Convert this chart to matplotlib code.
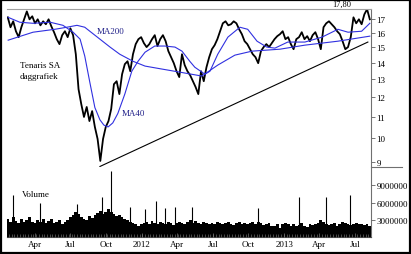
import datetime as dt
import matplotlib
matplotlib.use("Agg")
import matplotlib.pyplot as plt
import matplotlib.dates as mdates
from matplotlib.lines import Line2D
from matplotlib.patches import Rectangle
import pandas as pd

plt.rcParams['font.family'] = ['Liberation Serif', 'DejaVu Serif']

# weekly closes (Tenaris SA, Jan 2011 - Aug 2013)
week_start = '2011-01-21'
closes = [17.15, 16.41, 16.85, 16.12, 15.70, 16.41, 17.00, 17.61, 17.00, 17.23,
          16.70, 17.00, 16.55, 16.85, 16.63, 17.00, 16.48, 16.05, 15.56, 15.22,
          15.84, 16.12, 15.70, 16.33, 15.84, 14.55, 12.45, 11.65, 11.00, 11.50,
          10.80, 11.29, 10.52, 9.97, 9.04, 9.97, 10.52, 10.80, 11.40, 12.73,
          12.90, 12.18, 13.31, 13.92, 14.10, 13.49, 14.55, 15.22, 15.56, 15.70,
          15.29, 15.02, 15.22, 15.56, 15.84, 15.09, 15.56, 15.84, 15.42, 14.75,
          14.36, 13.98, 13.49, 13.14, 14.55, 13.86, 13.49, 13.25, 12.90, 12.57,
          12.18, 13.49, 12.90, 13.73, 14.36, 14.88, 15.15, 15.56, 16.12, 16.70,
          16.85, 16.55, 16.63, 16.85, 16.70, 16.26, 15.91, 15.42, 15.22, 14.88,
          14.55, 14.36, 13.98, 14.75, 15.02, 15.22, 15.02, 15.29, 15.56, 15.77,
          15.91, 16.12, 15.56, 15.70, 15.22, 14.88, 15.56, 15.70, 16.05, 15.56,
          15.77, 15.42, 15.84, 16.05, 15.56, 14.88, 16.41, 16.70, 16.85, 16.63,
          16.41, 16.12, 15.91, 15.42, 14.88, 15.02, 15.70, 17.15, 16.70, 17.00,
          16.63, 17.38, 17.78, 17.00]

# weekly volume (millions)
volume = [3.1, 2.6, 3.4, 2.8, 2.4, 3.2, 2.6, 3.0, 3.5, 2.7, 2.5,
          2.9, 2.6, 3.2, 2.4, 2.8, 3.1, 2.5, 2.7, 3.0, 2.3, 2.6, 2.9, 3.4,
          3.8, 4.3, 4.0, 3.4, 3.2, 3.0, 3.6, 3.3, 3.8, 4.2, 4.6, 4.0, 4.4,
          4.8, 4.3, 4.0, 3.6, 3.8, 3.4, 3.1, 2.9, 2.6, 2.4, 2.2, 2.0, 2.3,
          2.4, 2.6, 2.2, 2.8, 2.4, 2.3, 2.7, 2.5, 2.2, 2.6, 2.4, 2.1, 2.5,
          2.7, 2.4, 2.2, 2.6, 2.9, 2.4, 2.8, 2.5, 2.3, 2.7, 2.4, 2.2, 2.5,
          2.3, 2.6, 2.4, 2.2, 2.5, 2.7, 2.3, 2.1, 2.4, 2.6, 2.2, 2.4, 2.3,
          2.4, 2.6, 2.2, 2.7, 2.4, 2.1, 2.3, 2.5, 2.0, 1.9, 2.2, 1.6, 2.3,
          2.4, 2.2, 2.0, 2.3, 1.9, 2.1, 2.4, 2.0, 1.8, 2.2, 2.1, 2.3, 2.4,
          2.9, 2.6, 2.3, 2.1, 2.2, 2.4, 2.0, 2.3, 2.6, 2.4, 2.2, 2.1, 2.3,
          2.4, 2.2, 2.3, 2.1, 2.2, 2.0]

# single-day volume spikes (millions)
spike_dates = ['2011-02-03', '2011-04-15', '2011-07-18', '2011-09-20', '2011-10-14',
               '2011-12-01', '2012-01-09', '2012-02-06', '2012-02-29', '2012-03-26',
               '2012-05-09', '2012-10-25', '2013-02-08', '2013-04-18', '2013-06-19']
spike_vals = [7.4, 6.0, 5.8, 6.9, 11.5, 5.3, 4.8, 6.2, 5.1, 5.3, 5.3, 5.1, 6.9, 6.9, 7.4]

# moving averages
ma40_dates = ['2011-01-22', '2011-02-21', '2011-03-27', '2011-05-10', '2011-06-12',
              '2011-07-08', '2011-07-26', '2011-08-07', '2011-08-20', '2011-09-02',
              '2011-09-15', '2011-09-25', '2011-10-06', '2011-10-18', '2011-10-31',
              '2011-11-18', '2011-12-06', '2011-12-22', '2012-01-09', '2012-02-03',
              '2012-02-29', '2012-03-26', '2012-04-13', '2012-05-03', '2012-05-16',
              '2012-06-11', '2012-06-24', '2012-07-14', '2012-08-09', '2012-09-09',
              '2012-09-29', '2012-10-23', '2012-11-17', '2012-12-08', '2013-01-10',
              '2013-02-23', '2013-04-08', '2013-05-19', '2013-06-14', '2013-07-19',
              '2013-08-09']
ma40_vals = [17.15, 16.78, 16.70, 16.78, 16.55, 16.05, 15.56, 14.43, 12.84, 11.47,
             10.86, 10.61, 10.52, 10.71, 11.17, 12.18, 13.49, 14.10, 14.68, 15.09,
             15.09, 15.02, 14.75, 14.10, 13.73, 13.31, 13.49, 14.55, 15.70, 16.41,
             16.26, 15.42, 15.02, 14.95, 15.36, 15.36, 15.70, 16.26, 16.05, 16.12,
             16.70]

ma200_dates = ['2011-01-22', '2011-03-27', '2011-05-22', '2011-06-22', '2011-07-18',
               '2011-08-07', '2011-08-20', '2011-09-15', '2011-10-11', '2011-11-05',
               '2011-12-09', '2012-01-09', '2012-02-21', '2012-04-08', '2012-06-03',
               '2012-07-14', '2012-08-27', '2012-10-10', '2012-12-21', '2013-02-23',
               '2013-05-19', '2013-08-09']
ma200_vals = [15.49, 16.05, 16.26, 16.41, 16.55, 16.41, 16.12, 15.56, 15.02, 14.55,
              14.10, 13.80, 13.62, 13.43, 13.20, 13.86, 14.49, 14.75, 14.88, 15.15,
              15.42, 15.77]

trend_dates = ['2011-09-15', '2013-08-04']
trend_vals = [8.82, 15.36]

price_ticks = [9, 10, 11, 12, 13, 14, 15, 16, 17]
vol_ticks = [3000000, 6000000, 9000000]
x_tick_dates = ['2011-04-01', '2011-07-01', '2011-10-01', '2012-01-01', '2012-04-01',
                '2012-07-01', '2012-10-01', '2013-01-01', '2013-04-01', '2013-07-01']
x_tick_labels = ['Apr', 'Jul', 'Oct', '2012', 'Apr', 'Jul', 'Oct', '2013', 'Apr', 'Jul']


def d(s):
    return mdates.date2num(dt.datetime.strptime(s, '%Y-%m-%d'))


weeks = pd.date_range(week_start, periods=len(closes), freq='7D')
fs = 6.5
blue = '#3030e0'
navy = '#23238a'

fig = plt.figure(figsize=(4.11, 2.55), dpi=100)
ax = fig.add_axes([0.017, 0.3412, 0.8856, 0.6196])
axv = fig.add_axes([0.017, 0.0667, 0.8856, 0.2745], sharex=ax)

# price panel
ax.plot(weeks, closes, color='black', lw=1.3)
ax.plot([d(s) for s in ma40_dates], ma40_vals, color=blue, lw=0.8)
ax.plot([d(s) for s in ma200_dates], ma200_vals, color=blue, lw=0.8)
ax.plot([d(s) for s in trend_dates], trend_vals, color='black', lw=0.8)
ax.set_yscale('log')
ax.set_ylim(8.80, 17.8)
ax.set_xlim(d('2011-01-19'), d('2013-08-12'))
ax.yaxis.tick_right()
ax.set_yticks(price_ticks)
ax.set_yticklabels([str(t) for t in price_ticks])
ax.yaxis.set_minor_locator(plt.NullLocator())
ax.tick_params(axis='y', which='major', length=3, width=0.6, color='#606060',
               labelsize=fs, pad=1)
ax.tick_params(axis='x', which='both', bottom=False, labelbottom=False)
for side in ['left', 'bottom']:
    ax.spines[side].set_visible(False)
ax.spines['top'].set_color('#a0a0a0')
ax.spines['right'].set_color('#707070')
ax.spines['top'].set_linewidth(0.8)
ax.spines['right'].set_linewidth(0.8)

# volume panel
axv.bar(weeks, [v * 1e6 for v in volume], width=7, color='black', lw=0)
axv.vlines([d(s) for s in spike_dates], 0, [v * 1e6 for v in spike_vals],
           color='black', lw=0.8)
axv.set_ylim(0, 12.2e6)
axv.yaxis.tick_right()
axv.set_yticks(vol_ticks)
axv.set_yticklabels([str(t) for t in vol_ticks])
axv.tick_params(axis='y', length=3, width=0.6, color='#606060', labelsize=fs, pad=1)
axv.set_xticks([d(s) for s in x_tick_dates])
axv.set_xticklabels(x_tick_labels)
axv.xaxis.set_minor_locator(mdates.WeekdayLocator(byweekday=mdates.MO))
axv.tick_params(axis='x', which='major', direction='in', length=3, width=0.6,
                color='#606060', labelsize=fs, pad=2)
axv.tick_params(axis='x', which='minor', direction='in', length=2, width=0.4,
                color='#808080')
axv.set_axisbelow(False)
for side in ['left', 'top']:
    axv.spines[side].set_visible(False)
axv.spines['right'].set_color('#707070')
axv.spines['bottom'].set_color('#404040')
axv.spines['right'].set_linewidth(0.8)
axv.spines['bottom'].set_linewidth(0.8)

# labels
fig.text(0.0487, 0.741, 'Tenaris SA', fontsize=fs, va='center')
fig.text(0.0487, 0.698, 'daggrafiek', fontsize=fs, va='center')
fig.text(0.236, 0.8745, 'MA200', fontsize=fs, va='center', color=navy)
fig.text(0.297, 0.553, 'MA40', fontsize=fs, va='center', color=navy)
fig.text(0.0535, 0.235, 'Volume', fontsize=fs, va='center')
fig.text(0.832, 0.980, '17,80', fontsize=fs - 0.5, va='center', ha='center')

# separator in the label column and outer frame
fig.add_artist(Line2D([0.9027, 0.978], [0.3412, 0.3412], color='#707070', lw=0.8))
fig.add_artist(Rectangle((0.003, 0.005), 0.994, 0.99, transform=fig.transFigure,
                         fill=False, edgecolor='black', lw=1.6))

fig.savefig('out.png', dpi=100)
